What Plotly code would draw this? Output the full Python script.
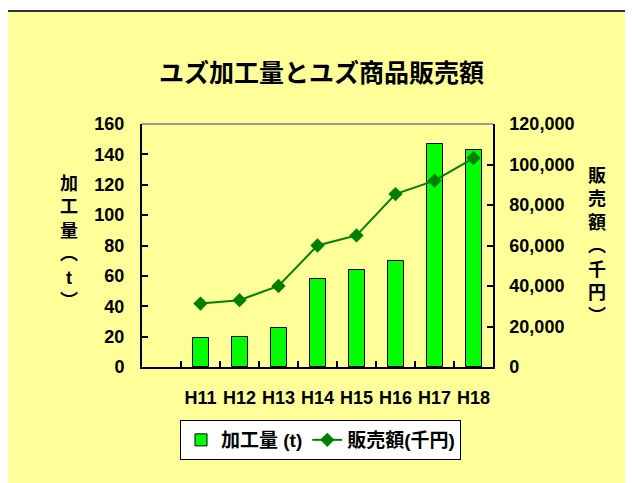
import plotly.graph_objects as go

categories = ["H11", "H12", "H13", "H14", "H15", "H16", "H17", "H18"]
processing_t = [19, 20, 26, 58, 64, 70, 147, 143]
sales_kyen = [31300, 33000, 40000, 60000, 65000, 85400, 92000, 103200]

title_text = "ユズ加工量とユズ商品販売額"
left_title = "加工量︵t︶"
right_title = "販売額︵千円︶"
bar_name = "加工量 (t)"
line_name = "販売額(千円)"

# page body has an 8px margin; figure is sized to fit the 633x483 window
OFF = 8
W, H = 633 - OFF, 483 - OFF
# plot area in window pixels: x 142..493, y 124..367
ML, MT = 142 - OFF, 124 - OFF
MR, MB = W - (493 - OFF), H - (367 - OFF)
PW, PH = W - ML - MR, H - MT - MB


def px_x(p):
    return (p - OFF - ML) / PW


def px_y(p):
    return (H - MB - (p - OFF)) / PH


FONT = "Liberation Sans, Noto Sans CJK JP, sans-serif"

fig = go.Figure()
fig.add_trace(go.Bar(
    x=categories, y=processing_t, name=bar_name,
    marker=dict(color="#00FF00", line=dict(color="#000000", width=1)),
    width=0.41, yaxis="y",
))
fig.add_trace(go.Scatter(
    x=categories, y=sales_kyen, name=line_name, mode="lines+markers",
    line=dict(color="#008000", width=2),
    marker=dict(symbol="diamond", size=11, color="#008000"),
    yaxis="y2",
))

tickfont = dict(family=FONT, size=18, color="#000000", weight="bold")

fig.update_layout(
    width=W, height=H,
    margin=dict(l=ML, r=MR, t=MT, b=MB, pad=0),
    paper_bgcolor="#FFFFFF",
    plot_bgcolor="#FFFFFF",
    showlegend=True,
    bargap=0,
    xaxis=dict(
        type="category", categoryorder="array", categoryarray=categories,
        range=[-1.5, 7.5], tickson="boundaries", ticks="inside", ticklen=6,
        tickcolor="#000000", tickwidth=1.5, tickangle=0,
        showline=True, linecolor="#000000", linewidth=2, mirror=False,
        showgrid=False, zeroline=False, tickfont=tickfont,
        ticklabelstandoff=13,
    ),
    yaxis=dict(
        range=[0, 160], dtick=20, ticks="inside", ticklen=6,
        tickcolor="#000000", tickwidth=1.5,
        showline=True, linecolor="#000000", linewidth=2,
        showgrid=False, zeroline=False, tickfont=tickfont,
        ticklabelstandoff=12,
    ),
    yaxis2=dict(
        range=[0, 120000], dtick=20000, tickformat=",", overlaying="y",
        side="right", ticks="inside", ticklen=6,
        tickcolor="#000000", tickwidth=1.5,
        showline=True, linecolor="#000000", linewidth=1.5,
        showgrid=False, zeroline=False, tickfont=tickfont,
        ticklabelstandoff=11,
    ),
    legend=dict(
        orientation="h", x=px_x(320.5), xanchor="center",
        y=px_y(420), yanchor="top",
        bgcolor="#FFFFFF", bordercolor="#000000", borderwidth=1,
        font=dict(family=FONT, size=19, color="#000000", weight="bold"),
        traceorder="normal", itemwidth=30,
    ),
    shapes=[
        dict(type="rect", xref="paper", yref="paper", layer="below",
             x0=px_x(7), x1=px_x(700), y0=px_y(560), y1=px_y(11),
             fillcolor="#FFFF99", line=dict(color="#333333", width=2)),
        dict(type="line", xref="paper", yref="paper",
             x0=0, x1=1, y0=1, y1=1,
             line=dict(color="#9A9A9A", width=2)),
    ],
    annotations=[
        dict(text=title_text, xref="paper", yref="paper",
             x=px_x(321.5), y=px_y(73), xanchor="center", yanchor="middle",
             showarrow=False,
             font=dict(family=FONT, size=25, color="#000000", weight="bold")),
        dict(text="<br>".join(list(left_title)), xref="paper", yref="paper",
             x=px_x(69), y=px_y(242), xanchor="center", yanchor="middle",
             showarrow=False,
             font=dict(family=FONT, size=18, color="#000000", weight="bold")),
        dict(text="<br>".join(list(right_title)), xref="paper", yref="paper",
             x=px_x(597), y=px_y(246), xanchor="center", yanchor="middle",
             showarrow=False,
             font=dict(family=FONT, size=18, color="#000000", weight="bold")),
    ],
)

fig.write_html("out.html")
